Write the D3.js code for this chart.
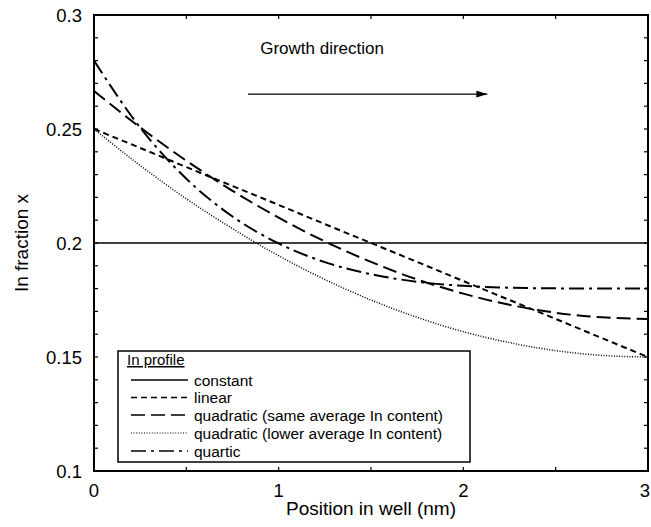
<!DOCTYPE html>
<html>
<head>
<meta charset="utf-8">
<script src="https://cdn.jsdelivr.net/npm/d3@7/dist/d3.min.js"></script>
<style>
  html, body { margin: 0; padding: 0; background: #fff; }
  svg { display: block; }
  text { font-family: "Liberation Sans", Arial, Helvetica, sans-serif; fill: #000; }
</style>
</head>
<body>
<svg id="chart" width="651" height="527"></svg>
<script>
// Position in the well (nm)
const positions = [0, 0.25, 0.5, 0.75, 1, 1.25, 1.5, 1.75, 2, 2.25, 2.5, 2.75, 3];

// In fraction for each composition profile
const constantProfile = [0.2, 0.2, 0.2, 0.2, 0.2, 0.2, 0.2, 0.2, 0.2, 0.2, 0.2, 0.2, 0.2];
const linearProfile = [0.25, 0.2417, 0.2333, 0.225, 0.2167, 0.2083, 0.2, 0.1917, 0.1833, 0.175, 0.1667, 0.1583, 0.15];
const quadraticSame = [0.2667, 0.2507, 0.2361, 0.2229, 0.2111, 0.2007, 0.1917, 0.184, 0.1778, 0.1729, 0.1694, 0.1674, 0.1667];
const quadraticLower = [0.25, 0.234, 0.2194, 0.2063, 0.1944, 0.184, 0.175, 0.1674, 0.1611, 0.1563, 0.1528, 0.1507, 0.15];
const quarticProfile = [0.28, 0.2506, 0.2282, 0.2116, 0.1998, 0.1916, 0.1863, 0.183, 0.1812, 0.1804, 0.1801, 0.18, 0.18];

const seriesNames = [
  "constant",
  "linear",
  "quadratic (same average In content)",
  "quadratic (lower average In content)",
  "quartic"
];
const seriesValues = [constantProfile, linearProfile, quadraticSame, quadraticLower, quarticProfile];
const seriesDash = [null, "6,4", "14,6", "1,1.6", "15,5,3,5"];
const seriesWidth = [1.6, 2, 2, 1.5, 2];

const xTicks = [0, 0.5, 1, 1.5, 2, 2.5, 3];
const xTickLabels = [0, 1, 2, 3];
const yTicks = d3.range(10, 31).map(d => d / 100);
const yTickLabels = [0.1, 0.15, 0.2, 0.25, 0.3];

const svg = d3.select("#chart");
const plotL = 94, plotR = 648, plotT = 15, plotB = 471;
const width = 651;

const x = d3.scaleLinear().domain([0, 3]).range([plotL, plotR]);
const y = d3.scaleLinear().domain([0.1, 0.3]).range([plotB, plotT]);

// Curves
const line = d3.line()
  .x((d, i) => x(positions[i]))
  .y(d => y(d))
  .curve(d3.curveMonotoneX);

const plot = svg.append("g");
seriesValues.forEach((vals, k) => {
  plot.append("path")
    .datum(vals)
    .attr("d", line)
    .attr("fill", "none")
    .attr("stroke", "#000")
    .attr("stroke-width", seriesWidth[k])
    .attr("stroke-dasharray", seriesDash[k]);
});

// Ticks (inward) on all four sides
const tickLen = 4;
const ticks = svg.append("g").attr("stroke", "#000").attr("stroke-width", 1.2);
xTicks.forEach(t => {
  ticks.append("line").attr("x1", x(t)).attr("x2", x(t)).attr("y1", plotB).attr("y2", plotB - tickLen);
  ticks.append("line").attr("x1", x(t)).attr("x2", x(t)).attr("y1", plotT).attr("y2", plotT + tickLen);
});
yTicks.forEach(t => {
  ticks.append("line").attr("x1", plotL).attr("x2", plotL + tickLen).attr("y1", y(t)).attr("y2", y(t));
  ticks.append("line").attr("x1", plotR).attr("x2", plotR - tickLen).attr("y1", y(t)).attr("y2", y(t));
});

// Frame
svg.append("rect")
  .attr("x", plotL).attr("y", plotT)
  .attr("width", plotR - plotL).attr("height", plotB - plotT)
  .attr("fill", "none").attr("stroke", "#000").attr("stroke-width", 2);

// Tick labels (the last one is kept inside the page edge)
svg.append("g").selectAll("text").data(xTickLabels).join("text")
  .attr("x", d => Math.min(x(d), width - 6)).attr("y", plotB + 26)
  .attr("text-anchor", "middle")
  .attr("font-size", 18.5)
  .text(d => d);

svg.append("g").selectAll("text").data(yTickLabels).join("text")
  .attr("x", plotL - 12).attr("y", d => y(d) + 6.5)
  .attr("text-anchor", "end")
  .attr("font-size", 18.5)
  .text(d => d3.format("")(d));

// Axis titles
svg.append("text")
  .attr("x", (plotL + plotR) / 2).attr("y", 515)
  .attr("text-anchor", "middle").attr("font-size", 19)
  .text("Position in well (nm)");

svg.append("text")
  .attr("transform", `translate(28,${(plotT + plotB) / 2}) rotate(-90)`)
  .attr("text-anchor", "middle").attr("font-size", 19)
  .text("In fraction x");

// Growth direction annotation
const defs = svg.append("defs");
defs.append("marker")
  .attr("id", "arrowhead")
  .attr("viewBox", "0 0 11 7")
  .attr("refX", 11).attr("refY", 3.5)
  .attr("markerWidth", 11).attr("markerHeight", 7)
  .attr("markerUnits", "userSpaceOnUse")
  .attr("orient", "auto")
  .append("path").attr("d", "M0,0 L11,3.5 L0,7 Z").attr("fill", "#000");

svg.append("text")
  .attr("x", x(1.235)).attr("y", y(0.2855) + 6)
  .attr("text-anchor", "middle").attr("font-size", 17)
  .text("Growth direction");

svg.append("line")
  .attr("x1", x(0.834)).attr("x2", x(2.13))
  .attr("y1", y(0.2653)).attr("y2", y(0.2653))
  .attr("stroke", "#000").attr("stroke-width", 1.1)
  .attr("marker-end", "url(#arrowhead)");

// Legend
const lg = svg.append("g");
const boxL = 118, boxT = 351, boxR = 470, boxB = 462;
lg.append("rect")
  .attr("x", boxL).attr("y", boxT)
  .attr("width", boxR - boxL).attr("height", boxB - boxT)
  .attr("fill", "#fff").attr("stroke", "#000").attr("stroke-width", 1.5);

lg.append("text")
  .attr("x", 127).attr("y", 365)
  .attr("font-size", 15)
  .attr("text-decoration", "underline")
  .text("In profile");

const rowY = [380, 397.5, 415, 433, 451];
seriesNames.forEach((name, k) => {
  lg.append("line")
    .attr("x1", 131).attr("x2", 188)
    .attr("y1", rowY[k]).attr("y2", rowY[k])
    .attr("stroke", "#000")
    .attr("stroke-width", k === 3 ? 1.2 : 1.5)
    .attr("stroke-dasharray", seriesDash[k]);
  lg.append("text")
    .attr("x", 194).attr("y", rowY[k] + 5.5)
    .attr("font-size", 15.5)
    .text(name);
});
</script>
</body>
</html>
